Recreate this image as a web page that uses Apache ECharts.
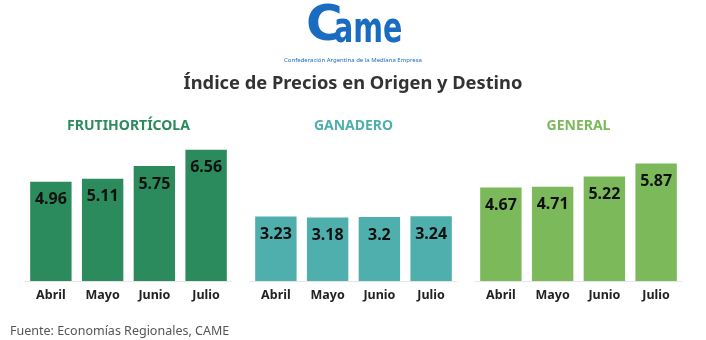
<!DOCTYPE html>
<html><head><meta charset="utf-8">
<script src="https://cdn.jsdelivr.net/npm/echarts@6/dist/echarts.min.js"></script>
<style>html,body{margin:0;padding:0;background:#fff}#c{width:706px;height:340px}</style>
</head><body><div id="c"></div>
<script>
const categories = ['Abril', 'Mayo', 'Junio', 'Julio'];
const frutihorticola = [4.96, 5.11, 5.75, 6.56];
const ganadero = [3.23, 3.18, 3.2, 3.24];
const general = [4.67, 4.71, 5.22, 5.87];
const panelTitles = ['FRUTIHORTÍCOLA', 'GANADERO', 'GENERAL'];

const FONT = '"Noto Sans", sans-serif';
const colors = ['#2b8b5d', '#4fafad', '#7bb95b'];
const lefts = [25, 250, 475];
const datasets = [frutihorticola, ganadero, general];
const BLUE = '#1a6cc0';

const chart = echarts.init(document.getElementById('c'));
const grids = [], xAxes = [], yAxes = [], series = [], graphics = [];
for (let i = 0; i < 3; i++) {
  grids.push({ left: lefts[i], width: 207, top: 141, height: 140 });
  xAxes.push({
    type: 'category', gridIndex: i, data: categories,
    axisLine: { lineStyle: { color: '#e6e6e6' } },
    axisTick: { alignWithLabel: true, length: 4, lineStyle: { color: '#eeeeee' } },
    axisLabel: { color: '#222', fontWeight: 'bold', fontSize: 12.5, fontFamily: FONT, margin: 8 }
  });
  yAxes.push({ type: 'value', gridIndex: i, min: 0, max: 7, show: false, splitLine: { show: false } });
  series.push({
    type: 'bar', xAxisIndex: i, yAxisIndex: i, data: datasets[i],
    barCategoryGap: '20%',
    itemStyle: { color: colors[i] },
    label: { show: true, position: 'insideTop', distance: 10, color: '#111', fontWeight: 'bold', fontSize: 16, fontFamily: FONT },
    silent: true
  });
  graphics.push({
    type: 'text', x: lefts[i] + 103.5, y: 126,
    style: { text: panelTitles[i], fill: colors[i], font: 'bold 14px "Noto Sans", sans-serif', textAlign: 'center', textVerticalAlign: 'middle' }
  });
}
graphics.push(
  { type: 'text', x: 353, y: 84, style: { text: 'Índice de Precios en Origen y Destino', fill: '#333', font: 'bold 18.3px "Noto Sans", sans-serif', textAlign: 'center', textVerticalAlign: 'middle' } },
  { type: 'text', x: 306, y: 27, style: { text: 'C', fill: BLUE, font: 'bold 50px "DejaVu Sans", sans-serif', textAlign: 'left', textVerticalAlign: 'middle' } },
  { type: 'text', x: 334, y: 31, scaleX: 0.68, style: { text: 'ame', fill: BLUE, font: 'bold 42px "DejaVu Sans", sans-serif', textAlign: 'left', textVerticalAlign: 'middle' } },
  { type: 'text', x: 353, y: 60, style: { text: 'Confederación Argentina de la Mediana Empresa', fill: BLUE, font: '6px "Noto Sans", sans-serif', textAlign: 'center', textVerticalAlign: 'middle' } },
  { type: 'text', x: 10, y: 331, style: { text: 'Fuente: Economías Regionales, CAME', fill: '#555', font: '12.5px "Noto Sans", sans-serif', textAlign: 'left', textVerticalAlign: 'middle' } }
);

chart.setOption({
  animation: false,
  grid: grids, xAxis: xAxes, yAxis: yAxes, series: series,
  graphic: graphics
});
</script></body></html>
